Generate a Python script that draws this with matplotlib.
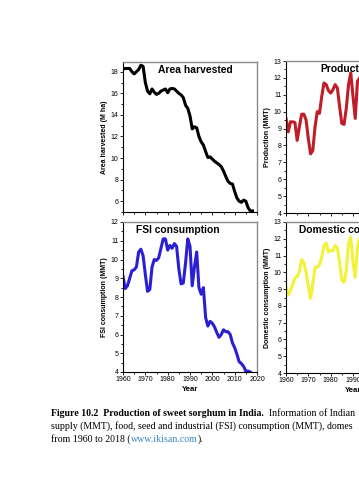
import numpy as np
import matplotlib
matplotlib.use('Agg')
import matplotlib.pyplot as plt
from matplotlib.ticker import MultipleLocator

plt.rcParams['font.family'] = ['Liberation Sans', 'DejaVu Sans']

# yearly data (1960-2018)
years = np.arange(1960, 2019)
area = [18.25, 18.3, 18.3, 18.3, 18.0, 17.8, 18.0, 18.2, 18.6, 18.5,
        17.0, 16.2, 15.95, 16.4, 16.1, 15.9, 16.0, 16.2, 16.3, 16.4,
        16.05, 16.4, 16.45, 16.4, 16.2, 16.0, 15.85, 15.6, 14.9, 14.6,
        13.9, 12.7, 12.9, 12.8, 12.0, 11.5, 11.2, 10.6, 10.05, 10.1,
        9.9, 9.7, 9.55, 9.4, 9.2, 8.8, 8.3, 7.85, 7.65, 7.6,
        6.9, 6.3, 6.0, 5.9, 6.1, 6.0, 5.4, 5.1, 5.1]
fsi = [9.1, 8.45, 8.6, 9.0, 9.4, 9.45, 9.6, 10.4, 10.55, 10.2,
       9.2, 8.3, 8.4, 9.6, 10.0, 9.95, 10.1, 10.6, 11.1, 11.1,
       10.5, 10.75, 10.6, 10.85, 10.7, 9.5, 8.7, 8.75, 9.8, 11.1,
       10.7, 8.6, 9.6, 10.4, 8.5, 8.15, 8.5, 6.9, 6.45, 6.7,
       6.6, 6.4, 6.1, 5.85, 6.0, 6.25, 6.15, 6.15, 6.0, 5.55,
       5.3, 4.95, 4.55, 4.45, 4.3, 4.05, 4.05, 4.0, 3.9]
# right-hand panels are cut by the page edge, only the visible part is read
years_r = np.arange(1960, 1994)
production = [9.6, 8.8, 9.4, 9.4, 9.35, 8.3, 9.1, 9.85, 9.85, 9.5,
              8.4, 7.5, 7.7, 9.1, 10.0, 9.9, 10.9, 11.7, 11.6, 11.25,
              11.1, 11.3, 11.6, 11.4, 10.3, 9.3, 9.25, 10.2, 11.6, 12.3,
              10.9, 9.6, 11.8, 12.0]
domestic = [9.15, 8.65, 8.9, 9.3, 9.65, 9.75, 10.05, 10.75, 10.6, 10.0,
            9.15, 8.45, 9.3, 10.3, 10.3, 10.45, 10.9, 11.6, 11.75, 11.2,
            11.3, 11.3, 11.6, 11.45, 10.6, 9.55, 9.4, 10.1, 11.7, 12.1,
            10.6, 9.7, 11.5, 12.0]

W, H = 359, 480
fig = plt.figure(figsize=(W / 100, H / 100), dpi=100)

def make_ax(x0, y_top, y_bot):
    # pixel box -> figure fraction; right panels run past the page edge
    return fig.add_axes([x0 / W, 1 - y_bot / H, 134 / W, (y_bot - y_top) / H])

def style(ax, ylo, yhi, major, minor, ylabel, title, tx, show_x):
    ax.set_xlim(1960, 2020)
    ax.set_ylim(ylo, yhi)
    ax.xaxis.set_major_locator(MultipleLocator(10))
    ax.xaxis.set_minor_locator(MultipleLocator(5))
    ax.yaxis.set_major_locator(MultipleLocator(major))
    ax.yaxis.set_minor_locator(MultipleLocator(minor))
    ax.tick_params(which='both', direction='out', width=0.6, labelsize=5.0, pad=1)
    ax.tick_params(which='major', length=2.2)
    ax.tick_params(which='minor', length=1.3)
    ax.tick_params(axis='x', top=False)
    ax.tick_params(axis='y', right=False)
    for s in ['left', 'bottom']:
        ax.spines[s].set_linewidth(0.8)
    for s in ['top', 'right']:
        ax.spines[s].set_color('#8a8a8a')
        ax.spines[s].set_linewidth(1.0)
    ax.set_ylabel(ylabel, fontsize=5.0, fontweight='bold', labelpad=2)
    if show_x:
        ax.set_xlabel('Year', fontsize=5.6, fontweight='bold', labelpad=2)
    else:
        ax.tick_params(axis='x', labelbottom=False)
    ax.text(tx, 0.945, title, transform=ax.transAxes, fontsize=7.4,
            fontweight='bold', ha='left', va='center')

ax1 = make_ax(123, 62, 212)
ax1.plot(years, area, color='black', lw=2.2, solid_joinstyle='round')
style(ax1, 5, 18.9, 2, 1, 'Area harvested (M ha)', 'Area harvested', 0.26, False)

ax2 = make_ax(286, 61, 213)
ax2.plot(years_r, production, color='#bf1e26', lw=2.2, solid_joinstyle='round')
style(ax2, 4, 13, 1, 0.5, 'Production (MMT)', 'Production', 0.26, False)

ax3 = make_ax(123, 222, 372)
ax3.plot(years, fsi, color='#2a1fd2', lw=2.2, solid_joinstyle='round')
style(ax3, 4, 12, 1, 0.5, 'FSI consumption (MMT)', 'FSI consumption', 0.1, True)

ax4 = make_ax(286, 222, 373)
ax4.plot(years_r, domestic, color='#f2f23a', lw=2.2, solid_joinstyle='round')
style(ax4, 4, 13, 1, 0.5, 'Domestic consumption (MMT)', 'Domestic consumption', 0.1, True)

# caption, Times-like serif, cut by the page edge like the reference
cap = dict(fontsize=7.1, family=['Liberation Serif', 'DejaVu Serif'])
t1 = fig.text(51 / W, 1 - 416 / H, 'Figure 10.2  Production of sweet sorghum in India.',
              fontweight='bold', va='baseline', **cap)
fig.add_artist(plt.Annotation('  Information of Indian', xy=(1, 0), xycoords=t1,
                              va='bottom', ha='left', **cap))
fig.text(51 / W, 1 - 429 / H,
         'supply (MMT), food, seed and industrial (FSI) consumption (MMT), domes',
         va='baseline', **cap)
t3 = fig.text(51 / W, 1 - 442 / H, 'from 1960 to 2018 (', va='baseline', **cap)
t4 = fig.add_artist(plt.Annotation('www.ikisan.com', xy=(1, 0), xycoords=t3,
                                   va='bottom', ha='left', color='#3a86c0', **cap))
fig.add_artist(plt.Annotation(').', xy=(1, 0), xycoords=t4,
                              va='bottom', ha='left', **cap))

fig.savefig('out.png', dpi=100)
